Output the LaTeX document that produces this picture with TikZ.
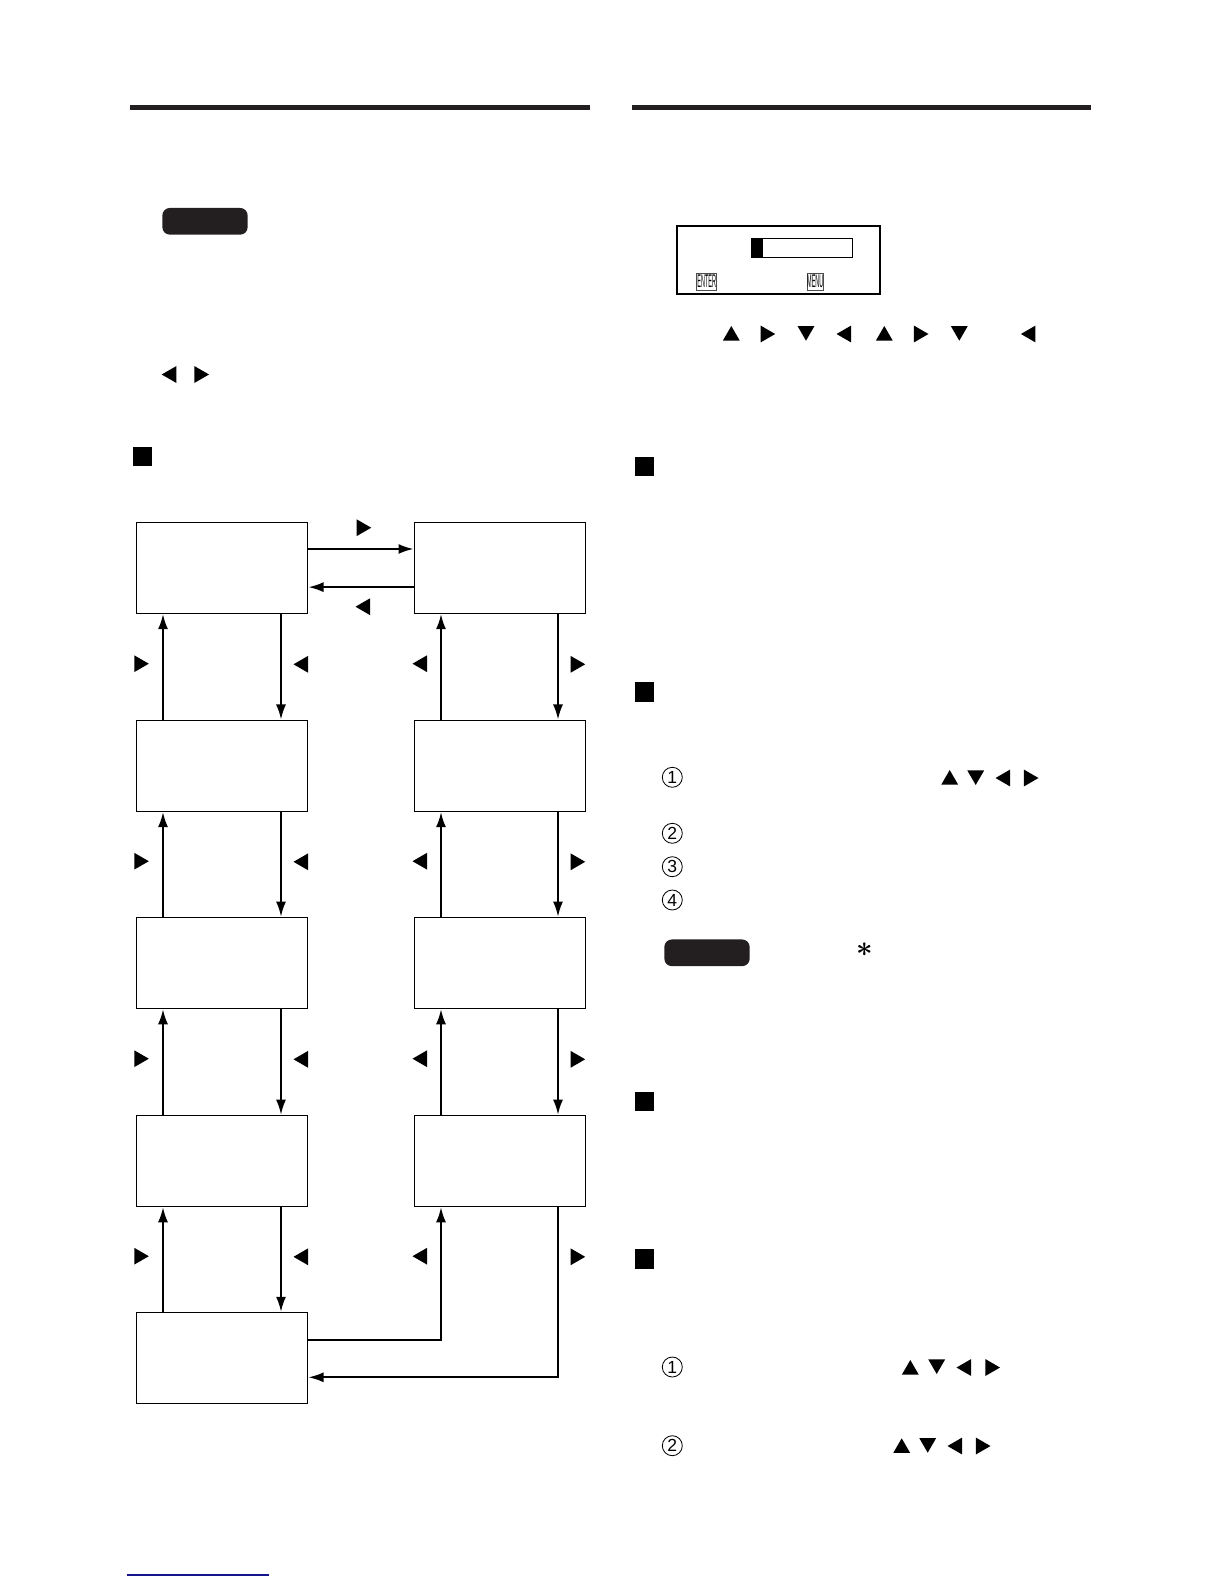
\documentclass[tikz,border=0pt]{standalone}
\usepackage{fontspec}
\setmainfont{Liberation Sans}
\usetikzlibrary{positioning,arrows.meta,shapes.geometric}
\definecolor{ink}{HTML}{231F20}
\definecolor{linkblue}{HTML}{14148C}

\begin{document}
\begin{tikzpicture}[
  x=0.6pt, y=-0.6pt, >=Latex,
  panel/.style={draw, line width=0.6pt, inner sep=0pt, outer sep=0pt,
                minimum width=102.8pt, minimum height=54.6pt},
  flow/.style={line width=1.1pt, shorten >=0.5pt,
               arrows={-Latex[length=9pt,width=6pt]}},
  tri/.style={regular polygon, regular polygon sides=3, fill=black,
              inner sep=0pt, outer sep=0pt, minimum size=11.64pt},
  triU/.style={tri},
  triD/.style={tri, shape border rotate=180},
  triL/.style={tri, shape border rotate=90},
  triR/.style={tri, shape border rotate=-90},
  secmark/.style={fill=black, inner sep=0pt, minimum size=11.6pt},
  pilltag/.style={fill=ink, rounded corners=4.5pt, inner sep=0pt,
                  minimum width=51.2pt, minimum height=16pt},
  stepnum/.style={draw, circle, line width=0.5pt, inner sep=0pt,
                  minimum size=12pt, font=\fontsize{10.5}{10.5}\selectfont},
  keycap/.style={draw=black!70, line width=0.5pt, inner sep=0pt,
                 minimum height=10.2pt},
  headrule/.style={ink, line width=2.8pt},
]
\useasboundingbox (0,0) rectangle (1224,1584);
% head rules
\draw[headrule] (130,107.5) -- (590,107.5);
\draw[headrule] (632,107.5) -- (1091,107.5);
% left column notes
\node[pilltag] (noteA) at (205,221.3) {};
\node[triL] at (171.4,374.5) {};
\node[triR] at (199.3,374.5) {};
\node[secmark] (secA) at (142.5,456.5) {};
% panels, left column
\node[panel] (l0) at (222,567.8) {};
\node[panel, below=64.2pt of l0] (l1) {};
\node[panel, below=63.7pt of l1] (l2) {};
\node[panel, below=64.2pt of l2] (l3) {};
\node[panel, below=63.7pt of l3] (l4) {};
% panels, right column
\node[panel, right=64pt of l0] (r0) {};
\node[panel, below=64.2pt of r0] (r1) {};
\node[panel, below=63.7pt of r1] (r2) {};
\node[panel, below=64.2pt of r2] (r3) {};
% flows across the top
\draw[flow] ([yshift=-16pt]l0.north east) -- ([yshift=-16pt]r0.north west);
\draw[flow] ([yshift=15.7pt]r0.south west) -- ([yshift=15.7pt]l0.south east);
\node[triR] at (361.5,527.7) {};
\node[triL] at (365.2,606.7) {};
% flows, left column
\draw[flow] ([xshift=16pt]l1.north west) -- ([xshift=16pt]l0.south west);
\draw[flow] ([xshift=-16pt]l0.south east) -- ([xshift=-16pt]l1.north east);
\draw[flow] ([xshift=16pt]l2.north west) -- ([xshift=16pt]l1.south west);
\draw[flow] ([xshift=-16pt]l1.south east) -- ([xshift=-16pt]l2.north east);
\draw[flow] ([xshift=16pt]l3.north west) -- ([xshift=16pt]l2.south west);
\draw[flow] ([xshift=-16pt]l2.south east) -- ([xshift=-16pt]l3.north east);
\draw[flow] ([xshift=16pt]l4.north west) -- ([xshift=16pt]l3.south west);
\draw[flow] ([xshift=-16pt]l3.south east) -- ([xshift=-16pt]l4.north east);
% flows, right column
\draw[flow] ([xshift=16pt]r1.north west) -- ([xshift=16pt]r0.south west);
\draw[flow] ([xshift=-16.6pt]r0.south east) -- ([xshift=-16.6pt]r1.north east);
\draw[flow] ([xshift=16pt]r2.north west) -- ([xshift=16pt]r1.south west);
\draw[flow] ([xshift=-16.6pt]r1.south east) -- ([xshift=-16.6pt]r2.north east);
\draw[flow] ([xshift=16pt]r3.north west) -- ([xshift=16pt]r2.south west);
\draw[flow] ([xshift=-16.6pt]r2.south east) -- ([xshift=-16.6pt]r3.north east);
% flows closing the loop at the bottom
\draw[flow] ([yshift=-16.4pt]l4.north east) -| ([xshift=16pt]r3.south west);
\draw[flow] ([xshift=-16.6pt]r3.south east) |- ([yshift=15.8pt]l4.south east);
% key marks beside the flows
\node[triR] at (139.1,663.7) {};
\node[triL] at (303.2,664.3) {};
\node[triL] at (422.2,663.7) {};
\node[triR] at (575.5,664.3) {};
\node[triR] at (139.1,861.2) {};
\node[triL] at (303.2,861.8) {};
\node[triL] at (422.2,861.2) {};
\node[triR] at (575.5,861.8) {};
\node[triR] at (139.1,1058.7) {};
\node[triL] at (303.2,1059.3) {};
\node[triL] at (422.2,1058.7) {};
\node[triR] at (575.5,1059.3) {};
\node[triR] at (139.1,1256.2) {};
\node[triL] at (303.2,1256.8) {};
\node[triL] at (422.2,1256.2) {};
\node[triR] at (575.5,1256.8) {};
% on-screen box
\node[draw, line width=1.1pt, inner sep=0pt, minimum width=122pt,
      minimum height=41pt] (scrn) at (778.5,260) {};
\node[draw, line width=0.6pt, inner sep=0pt, minimum width=61pt,
      minimum height=11.6pt] (bar) at (801.9,248) {};
\node[fill=black, inner sep=0pt, minimum width=7.2pt, minimum height=11.6pt,
      anchor=west] (barfill) at (bar.west) {};
\node[keycap, minimum width=12pt] (enter) at (706.8,281.5)
  {\scalebox{.3}[1]{\fontsize{11}{11}\selectfont ENTER}};
\node[keycap, minimum width=10pt] (menu) at (815.3,281.5)
  {\scalebox{.3}[1]{\fontsize{11}{11}\selectfont MENU}};
% key sequence
\node[triU] at (731.3,335.7) {};
\node[triR] at (765.5,334) {};
\node[triD] at (806,331) {};
\node[triL] at (846.2,334) {};
\node[triU] at (884.3,335.7) {};
\node[triR] at (918.8,334) {};
\node[triD] at (959.3,331) {};
\node[triL] at (1030.6,334) {};
% right column sections
\node[secmark] (secB) at (644.5,466.5) {};
\node[secmark] (secC) at (644.5,692) {};
\node[stepnum] (c1) at (672.3,777.3) {1};
\node[triU] at (949.7,779.7) {};
\node[triD] at (975.7,775.3) {};
\node[triL] at (1005.2,778) {};
\node[triR] at (1028.8,778) {};
\node[stepnum] (c2) at (672.3,833.3) {2};
\node[stepnum] (c3) at (672.3,866.7) {3};
\node[stepnum] (c4) at (672.3,900) {4};
\node[pilltag] (noteB) at (707,952.8) {};
\node[font=\LARGE\boldmath, inner sep=0pt] (star) at (864.3,950) {$\ast$};
\node[secmark] (secD) at (644.5,1101.5) {};
\node[secmark] (secE) at (644.5,1259) {};
\node[stepnum] (d1) at (672.3,1367) {1};
\node[triU] at (910.3,1369.7) {};
\node[triD] at (936.7,1364.3) {};
\node[triL] at (966.2,1367.5) {};
\node[triR] at (990.3,1367.5) {};
\node[stepnum] (d2) at (672.3,1445.7) {2};
\node[triU] at (901.7,1448) {};
\node[triD] at (927.7,1443) {};
\node[triL] at (957.2,1446) {};
\node[triR] at (980.8,1446) {};
% link rule at the foot
\draw[linkblue, line width=0.8pt] (127,1575) -- (269,1575);
\end{tikzpicture}
\end{document}
